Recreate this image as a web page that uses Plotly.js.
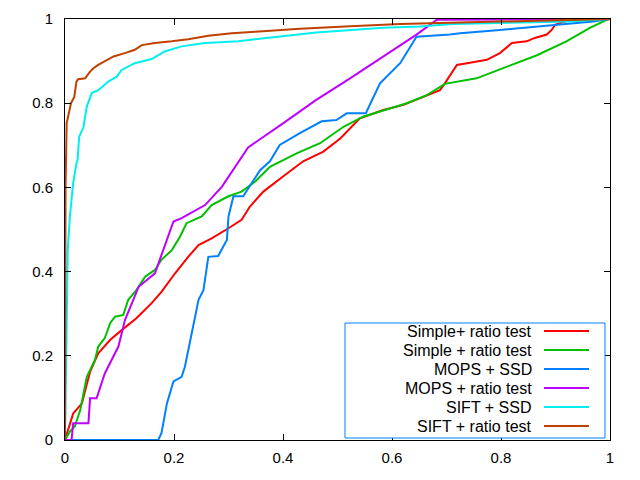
<!DOCTYPE html>
<html>
<head>
<meta charset="utf-8">
<script src="https://cdn.plot.ly/plotly-3.0.1.min.js"></script>
<style>html,body{margin:0;padding:0;background:#fff;}#chart{width:640px;height:480px;}</style>
</head>
<body>
<div id="chart"></div>
<script>
const seriesNames = ["Simple+ ratio test", "Simple + ratio test", "MOPS + SSD", "MOPS + ratio test", "SIFT + SSD", "SIFT + ratio test"];
const seriesColors = ["#ff0000", "#00c000", "#0080ff", "#c000ff", "#00eeee", "#c04000"];

const redX = [0, 0.015, 0.031, 0.046, 0.061, 0.083, 0.104, 0.131, 0.159, 0.177, 0.202, 0.226, 0.245, 0.269, 0.3, 0.324, 0.339, 0.364, 0.4, 0.437, 0.474, 0.505, 0.541, 0.584, 0.621, 0.657, 0.688, 0.697, 0.719, 0.743, 0.774, 0.798, 0.82, 0.847, 0.862, 0.884, 0.893, 0.899, 0.92, 1];
const redY = [0, 0.063, 0.087, 0.162, 0.206, 0.238, 0.261, 0.289, 0.325, 0.352, 0.396, 0.435, 0.463, 0.479, 0.503, 0.523, 0.554, 0.59, 0.626, 0.662, 0.685, 0.716, 0.764, 0.784, 0.796, 0.815, 0.831, 0.847, 0.891, 0.896, 0.903, 0.919, 0.943, 0.947, 0.955, 0.963, 0.974, 0.986, 0.995, 1];

const greenX = [0, 0.009, 0.018, 0.028, 0.04, 0.046, 0.055, 0.061, 0.073, 0.083, 0.092, 0.107, 0.116, 0.131, 0.147, 0.165, 0.177, 0.196, 0.211, 0.223, 0.251, 0.269, 0.3, 0.324, 0.349, 0.376, 0.425, 0.468, 0.511, 0.547, 0.596, 0.627, 0.664, 0.697, 0.755, 0.804, 0.866, 0.92, 0.963, 0.994, 1];
const greenY = [0, 0.02, 0.032, 0.071, 0.15, 0.166, 0.19, 0.222, 0.242, 0.278, 0.293, 0.297, 0.333, 0.356, 0.388, 0.404, 0.428, 0.451, 0.483, 0.515, 0.531, 0.558, 0.579, 0.59, 0.614, 0.649, 0.681, 0.705, 0.744, 0.768, 0.788, 0.8, 0.819, 0.846, 0.859, 0.883, 0.914, 0.947, 0.979, 0.998, 1];

const blueX = [0, 0.171, 0.177, 0.187, 0.199, 0.214, 0.22, 0.232, 0.245, 0.254, 0.263, 0.281, 0.297, 0.3, 0.309, 0.327, 0.339, 0.358, 0.376, 0.394, 0.431, 0.471, 0.498, 0.517, 0.552, 0.578, 0.615, 0.645, 0.706, 0.725, 0.798, 0.896, 0.969, 1];
const blueY = [0, 0, 0.016, 0.087, 0.139, 0.15, 0.174, 0.253, 0.333, 0.356, 0.435, 0.437, 0.475, 0.531, 0.579, 0.579, 0.602, 0.641, 0.662, 0.701, 0.729, 0.757, 0.76, 0.776, 0.776, 0.847, 0.895, 0.958, 0.963, 0.966, 0.974, 0.986, 0.994, 1];

const purpleX = [0, 0.012, 0.015, 0.043, 0.046, 0.058, 0.073, 0.098, 0.11, 0.135, 0.165, 0.183, 0.199, 0.214, 0.257, 0.288, 0.336, 0.4, 0.461, 0.523, 0.584, 0.645, 0.682, 1];
const purpleY = [0, 0, 0.04, 0.04, 0.099, 0.099, 0.158, 0.222, 0.285, 0.364, 0.396, 0.459, 0.519, 0.527, 0.558, 0.602, 0.695, 0.752, 0.808, 0.859, 0.911, 0.963, 0.998, 1];

const cyanX = [0, 0.002, 0.003, 0.005, 0.009, 0.015, 0.021, 0.023, 0.026, 0.034, 0.04, 0.049, 0.061, 0.079, 0.095, 0.104, 0.128, 0.159, 0.183, 0.214, 0.257, 0.318, 0.349, 0.461, 0.584, 0.651, 0.712, 0.804, 0.927, 1];
const cyanY = [0, 0.174, 0.25, 0.451, 0.531, 0.61, 0.657, 0.665, 0.72, 0.744, 0.792, 0.824, 0.831, 0.851, 0.863, 0.879, 0.895, 0.905, 0.923, 0.935, 0.943, 0.947, 0.952, 0.968, 0.979, 0.982, 0.988, 0.991, 0.994, 1];

const brownX = [0, 0.001, 0.003, 0.006, 0.011, 0.017, 0.021, 0.024, 0.037, 0.046, 0.052, 0.061, 0.073, 0.089, 0.11, 0.128, 0.141, 0.165, 0.196, 0.226, 0.263, 0.306, 0.349, 0.431, 0.523, 0.615, 0.706, 0.804, 0.914, 1];
const brownY = [0, 0.6, 0.752, 0.768, 0.8, 0.815, 0.851, 0.857, 0.859, 0.875, 0.883, 0.891, 0.899, 0.911, 0.919, 0.927, 0.938, 0.943, 0.947, 0.952, 0.96, 0.966, 0.97, 0.977, 0.983, 0.988, 0.991, 0.994, 0.998, 1];

const tickVals = [0, 0.2, 0.4, 0.6, 0.8, 1];
const tickText = ["0", "0.2", "0.4", "0.6", "0.8", "1"];

const xs = [redX, greenX, blueX, purpleX, cyanX, brownX];
const ys = [redY, greenY, blueY, purpleY, cyanY, brownY];

const traces = xs.map((x, i) => ({
  x: x, y: ys[i], type: "scatter", mode: "lines", name: seriesNames[i],
  line: {color: seriesColors[i], width: 2}, showlegend: false, hoverinfo: "none"
}));

// custom gnuplot-style key (text right-aligned, sample line on the right)
const pxX = p => (p - 65) / 545;
const pxY = p => (440 - p) / 421;
const rowPx = [331, 350, 369, 388, 407, 426];
const shapes = [{type: "rect", xref: "paper", yref: "paper", x0: pxX(345), x1: pxX(605), y0: pxY(438), y1: pxY(323),
  line: {color: "#0080ff", width: 1}, fillcolor: "#ffffff", layer: "above"}];
const annotations = [];
seriesNames.forEach((n, i) => {
  shapes.push({type: "line", xref: "paper", yref: "paper", x0: pxX(544), x1: pxX(589), y0: pxY(rowPx[i]), y1: pxY(rowPx[i]),
    line: {color: seriesColors[i], width: 2}, layer: "above"});
  annotations.push({xref: "paper", yref: "paper", x: pxX(534), y: pxY(rowPx[i]), xanchor: "right", yanchor: "middle",
    text: n, showarrow: false, font: {family: "Liberation Sans, Arial, sans-serif", size: 16, color: "#000"}});
});

const axisCommon = {
  range: [0, 1], tickvals: tickVals, ticktext: tickText, ticks: "inside", ticklen: 6, tickwidth: 1, tickcolor: "#000",
  showline: true, linecolor: "#000", linewidth: 1, mirror: "ticks", showgrid: false, zeroline: false,
  tickfont: {family: "Liberation Sans, Arial, sans-serif", size: 15, color: "#000"}, fixedrange: true
};

const layout = {
  width: 640, height: 480,
  margin: {l: 65, r: 30, t: 19, b: 40},
  paper_bgcolor: "#fff", plot_bgcolor: "#fff",
  xaxis: Object.assign({}, axisCommon, {ticklabelstandoff: 4}),
  yaxis: Object.assign({}, axisCommon, {ticklabelstandoff: 8}),
  shapes: shapes, annotations: annotations, showlegend: false
};

Plotly.newPlot("chart", traces, layout, {staticPlot: true, displayModeBar: false});
</script>
</body>
</html>
